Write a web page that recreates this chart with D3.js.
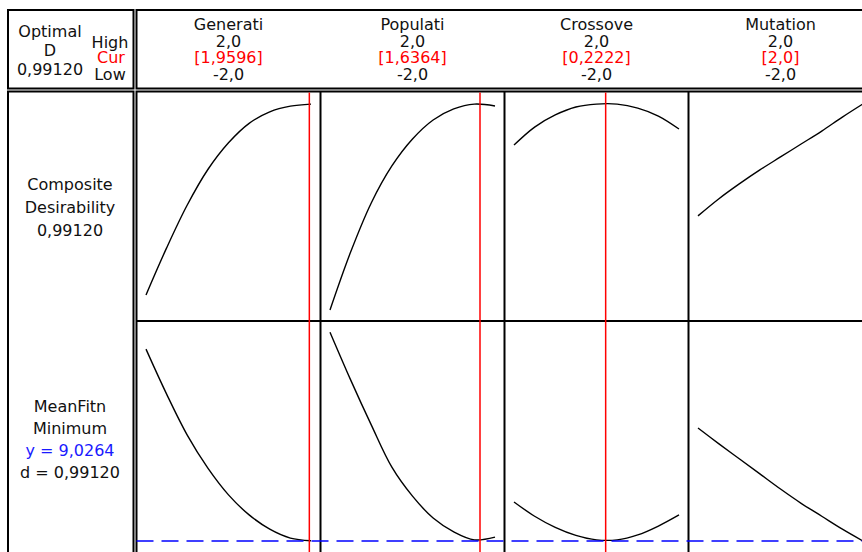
<!DOCTYPE html>
<html>
<head>
<meta charset="utf-8">
<script src="https://cdn.jsdelivr.net/npm/d3@7"></script>
<style>
	body { margin: 0; background: #fff; }
	text { font-family: 'DejaVu Sans', sans-serif; font-size: 16px; fill: #111; }
</style>
</head>
<body>
<div id="chart"></div>
<script>
const factors = ['Generati', 'Populati', 'Crossove', 'Mutation']
const highLabels = ['2,0', '2,0', '2,0', '2,0']
const curLabels = ['[1,9596]', '[1,6364]', '[0,2222]', '[2,0]']
const lowLabels = ['-2,0', '-2,0', '-2,0', '-2,0']
const curValues = [1.9596, 1.6364, 0.2222, 2.0]
const xLevels = [-2, -1.5, -1, -0.5, 0, 0.5, 1, 1.5, 2]

// composite desirability read along each factor
const desGenerati = [0.077, 0.302, 0.507, 0.677, 0.805, 0.898, 0.953, 0.980, 0.990]
const desPopulati = [0.005, 0.282, 0.517, 0.694, 0.823, 0.914, 0.967, 0.990, 0.981]
const desCrossove = [0.794, 0.880, 0.938, 0.976, 0.990, 0.990, 0.971, 0.933, 0.871]
const desMutation = [0.455, 0.536, 0.608, 0.675, 0.737, 0.799, 0.861, 0.928, 0.9912]

// MeanFitn response along each factor
const fitGenerati = [9.457, 9.356, 9.264, 9.190, 9.130, 9.085, 9.053, 9.033, 9.027]
const fitPopulati = [9.495, 9.388, 9.287, 9.192, 9.127, 9.078, 9.047, 9.029, 9.035]
const fitCrossove = [9.114, 9.082, 9.057, 9.039, 9.029, 9.029, 9.040, 9.060, 9.085]
const fitMutation = [9.280, 9.245, 9.211, 9.177, 9.143, 9.111, 9.082, 9.053, 9.0264]

const yOptimal = 9.0264

const desSeries = [desGenerati, desPopulati, desCrossove, desMutation]
const fitSeries = [fitGenerati, fitPopulati, fitCrossove, fitMutation]

const width = 862,
	height = 552,
	frameLeft = 8, split = 135, frameTop = 10, headBottom = 90,
	panelW = 184, row1 = [91.5, 321], row2 = [321, 550.5], pad = 9.5

const svg = d3.select('#chart').append('svg')
	.attr('width', width)
	.attr('height', height)

const yDes = d3.scaleLinear().domain([0, 1]).range([row1[1] - 10, row1[0] + 10.5])
const yFit = d3.scaleLinear().domain([yOptimal, 9.5]).range([row2[1] - pad, row2[0] + 9])

// boxes
const box = (x, y, w, h) => svg.append('rect')
	.attr('x', x).attr('y', y).attr('width', w).attr('height', h)
	.attr('fill', 'none').attr('stroke', '#000').attr('stroke-width', 2)

box(frameLeft, frameTop, split - 1.5 - frameLeft, headBottom - 1.5 - frameTop)
box(split + 1.5, frameTop, 900, headBottom - 1.5 - frameTop)
box(frameLeft, headBottom + 1.5, split - 1.5 - frameLeft, 600)
box(split + 1.5, headBottom + 1.5, 900, 600)

svg.append('line')
	.attr('x1', split + 1.5).attr('x2', width)
	.attr('y1', row1[1]).attr('y2', row1[1])
	.attr('stroke', '#000').attr('stroke-width', 2)

// left header
const lh = svg.append('g')
lh.append('text').attr('x', 50).attr('y', 37).attr('text-anchor', 'middle').text('Optimal')
lh.append('text').attr('x', 50).attr('y', 56).attr('text-anchor', 'middle').text('D')
lh.append('text').attr('x', 50).attr('y', 75).attr('text-anchor', 'middle').text('0,99120')
lh.append('text').attr('x', 110).attr('y', 48).attr('text-anchor', 'middle').text('High')
lh.append('text').attr('x', 111).attr('y', 63).attr('text-anchor', 'middle').style('fill', '#ff0000').text('Cur')
lh.append('text').attr('x', 110).attr('y', 80).attr('text-anchor', 'middle').text('Low')

// response labels
const rl = svg.append('g').attr('text-anchor', 'middle')
rl.append('text').attr('x', 70).attr('y', 190).text('Composite')
rl.append('text').attr('x', 70).attr('y', 213).text('Desirability')
rl.append('text').attr('x', 70).attr('y', 236).text('0,99120')
rl.append('text').attr('x', 70).attr('y', 412).text('MeanFitn')
rl.append('text').attr('x', 70).attr('y', 434).text('Minimum')
rl.append('text').attr('x', 70).attr('y', 456).style('fill', '#1a1aff').text('y = 9,0264')
rl.append('text').attr('x', 70).attr('y', 478).text('d = 0,99120')

const x0 = split + 1.5

factors.forEach((name, i) => {
	const pl = x0 + i * panelW,
		x = d3.scaleLinear().domain([-2, 2]).range([pl + pad, pl + panelW - pad]),
		cx = pl + panelW / 2

	const head = svg.append('g').attr('text-anchor', 'middle')
	head.append('text').attr('x', cx).attr('y', 30).text(name)
	head.append('text').attr('x', cx).attr('y', 47).text(highLabels[i])
	head.append('text').attr('x', cx).attr('y', 63).style('fill', '#ff0000').text(curLabels[i])
	head.append('text').attr('x', cx).attr('y', 80).text(lowLabels[i])

	if (i > 0) {
		svg.append('line')
			.attr('x1', pl).attr('x2', pl)
			.attr('y1', row1[0]).attr('y2', height)
			.attr('stroke', '#000').attr('stroke-width', 2)
	}

	const line1 = d3.line()
		.x((d, j) => x(xLevels[j]))
		.y((d) => yDes(d))
		.curve(d3.curveCatmullRom)
	const line2 = d3.line()
		.x((d, j) => x(xLevels[j]))
		.y((d) => yFit(d))
		.curve(d3.curveCatmullRom)

	svg.append('path')
		.attr('d', line1(desSeries[i]))
		.attr('fill', 'none').attr('stroke', '#000').attr('stroke-width', 1.4)
	svg.append('path')
		.attr('d', line2(fitSeries[i]))
		.attr('fill', 'none').attr('stroke', '#000').attr('stroke-width', 1.4)

	svg.append('line')
		.attr('x1', x(curValues[i])).attr('x2', x(curValues[i]))
		.attr('y1', row1[0] + 1).attr('y2', height)
		.attr('stroke', '#ff0000').attr('stroke-width', 1.5)
})

// optimum y reference
svg.append('line')
	.attr('x1', x0).attr('x2', width)
	.attr('y1', yFit(yOptimal)).attr('y2', yFit(yOptimal))
	.attr('stroke', '#0000ff').attr('stroke-width', 1.5)
	.attr('stroke-dasharray', '17,8')
</script>
</body>
</html>
